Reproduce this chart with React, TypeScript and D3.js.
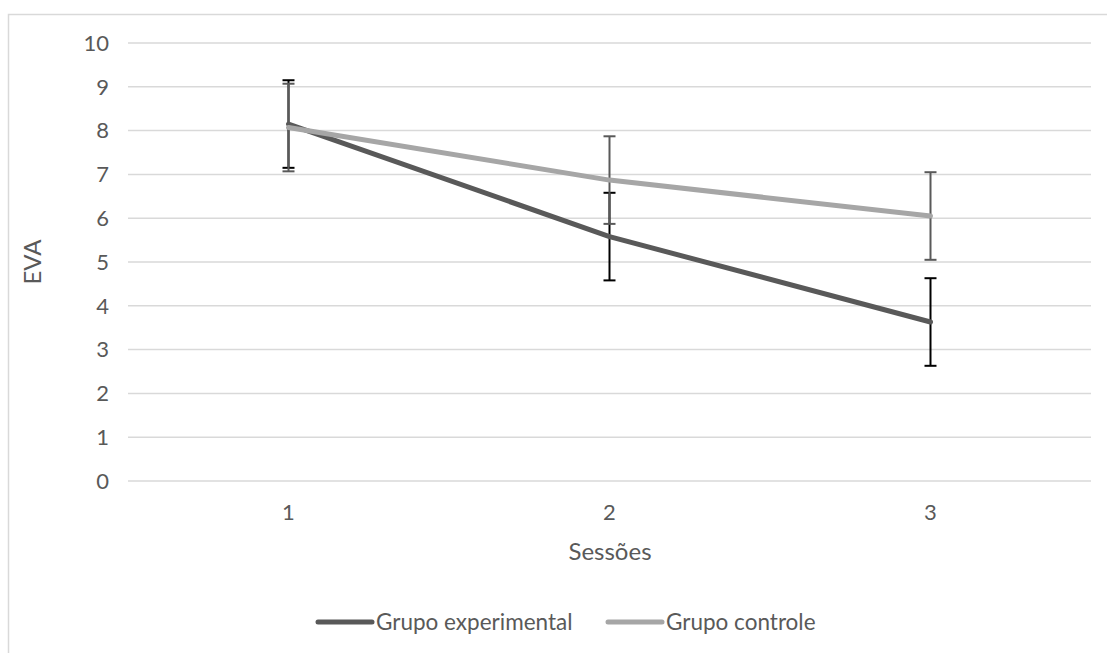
import React from "react";
import * as d3 from "d3";

const sessions = ["1", "2", "3"];
const yTicks = [0, 1, 2, 3, 4, 5, 6, 7, 8, 9, 10];
const experimental = [8.15, 5.58, 3.63];
const experimentalErr = [1.0, 1.0, 1.0];
const control = [8.07, 6.87, 6.05];
const controlErr = [1.0, 1.0, 1.0];
const seriesNames = ["Grupo experimental", "Grupo controle"];

const W = 1107;
const H = 653;
const font = "Lato, 'Open Sans', sans-serif";

export default function App() {
  const x = d3.scaleBand<string>().domain(sessions).range([128, 1091]);
  const y = d3.scaleLinear().domain([0, 10]).range([481, 43]);
  const cx = (s: string) => (x(s) as number) + x.bandwidth() / 2;
  const line = d3
    .line<number>()
    .x((_, i) => cx(sessions[i]))
    .y((d) => y(d));

  const series = [
    { vals: experimental, err: experimentalErr, lineColor: "#595959", errColor: "#000000" },
    { vals: control, err: controlErr, lineColor: "#a6a6a6", errColor: "#595959" },
  ];

  return (
    <svg width={W} height={H} style={{ position: "absolute", left: 0, top: 0 }}>
      <rect x={0} y={0} width={W} height={H} fill="#fff" />
      <rect x={8.5} y={14.5} width={1110} height={700} fill="none" stroke="#d9d9d9" strokeWidth={1.5} />
      {yTicks.map((t) => (
        <g key={t}>
          <line x1={128} x2={1091} y1={y(t)} y2={y(t)} stroke="#d9d9d9" strokeWidth={1.5} />
          <text x={109} y={y(t)} dy="0.35em" textAnchor="end" fontFamily={font} fontSize={22} fill="#595959">
            {t}
          </text>
        </g>
      ))}
      {sessions.map((s) => (
        <text key={s} x={cx(s)} y={512} dy="0.35em" textAnchor="middle" fontFamily={font} fontSize={22} fill="#595959">
          {s}
        </text>
      ))}
      <text x={610} y={552} dy="0.35em" textAnchor="middle" fontFamily={font} fontSize={24} fill="#595959">
        Sessões
      </text>
      <text
        transform={`translate(33, ${y(5)}) rotate(-90)`}
        dy="0.35em"
        textAnchor="middle"
        fontFamily={font}
        fontSize={24}
        fill="#595959"
      >
        EVA
      </text>
      {series.map((sr, k) => (
        <g key={k}>
          {sr.vals.map((v, i) => {
            const px = cx(sessions[i]);
            return (
              <g key={i} stroke={sr.errColor} strokeWidth={2}>
                <line x1={px} x2={px} y1={y(v + sr.err[i])} y2={y(v - sr.err[i])} />
                <line x1={px - 6} x2={px + 6} y1={y(v + sr.err[i])} y2={y(v + sr.err[i])} />
                <line x1={px - 6} x2={px + 6} y1={y(v - sr.err[i])} y2={y(v - sr.err[i])} />
              </g>
            );
          })}
          <path d={line(sr.vals) || ""} fill="none" stroke={sr.lineColor} strokeWidth={5} strokeLinecap="round" strokeLinejoin="round" />
        </g>
      ))}
      {seriesNames.map((n, k) => {
        const lx = k === 0 ? 318 : 608;
        return (
          <g key={n}>
            <line x1={lx} x2={lx + 54} y1={622} y2={622} stroke={series[k].lineColor} strokeWidth={5} strokeLinecap="round" />
            <text x={lx + 58} y={622} dy="0.35em" fontFamily={font} fontSize={22.5} fill="#595959">
              {n}
            </text>
          </g>
        );
      })}
    </svg>
  );
}
